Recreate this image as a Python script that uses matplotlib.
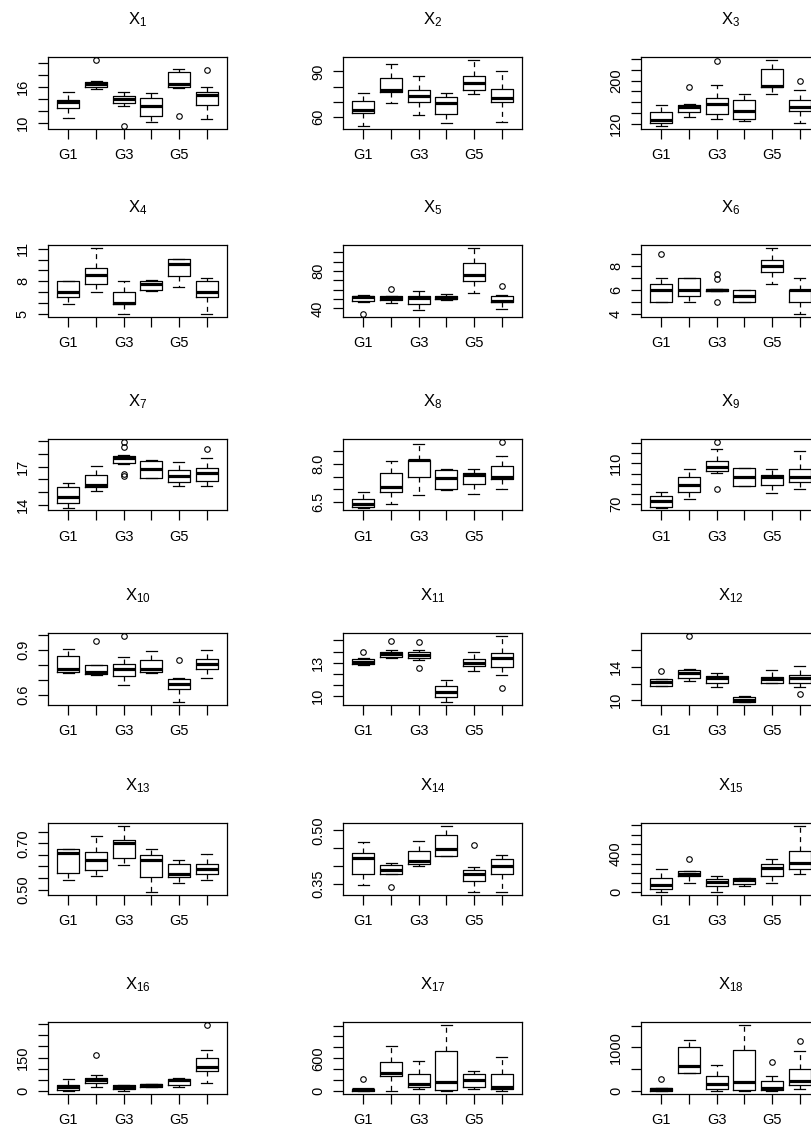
import matplotlib
matplotlib.use('Agg')
import matplotlib.pyplot as plt

plt.rcParams['font.family'] = ['Liberation Sans', 'DejaVu Sans']

group_ticks = ['G1', '', 'G3', '', 'G5', '']

# (lower whisker, Q1, median, Q3, upper whisker) for G1..G6, plus outliers
x1 = [(10.8, 12.5, 13.5, 13.9, 15.2), (15.6, 16.0, 16.5, 16.9, 17.1), (12.9, 13.3, 14.0, 14.5, 15.1),
      (10.1, 11.1, 12.8, 14.2, 15.0), (15.9, 16.0, 16.6, 18.5, 19.1), (10.6, 13.0, 14.6, 15.1, 16.0)]
x1_out = [[], [20.6], [9.5], [], [11.1], [18.8]]
x2 = [(54.3, 62.6, 64.9, 70.4, 76.1), (69.3, 76.3, 77.9, 85.8, 95.1), (61.3, 70.1, 73.7, 77.9, 86.7),
      (56.2, 62.0, 69.3, 73.0, 75.7), (75.2, 77.9, 82.3, 86.7, 97.7), (57.1, 69.7, 72.6, 78.5, 90.2)]
x2_out = [[], [], [], [], [], []]
x3 = [(117, 121.8, 127.4, 141.5, 155), (133.5, 142.8, 152, 155.7, 157), (129.2, 138.5, 157, 167.4, 191.4),
      (126, 129.2, 144.6, 164.3, 175.4), (175.4, 187.7, 190.8, 221.5, 238.2), (123, 144.6, 152, 164.3, 182.8)]
x3_out = [[], [187.7], [235], [], [], [200]]
x4 = [(5.93, 6.55, 7.01, 8.07, 8.07), (7.01, 7.76, 8.56, 9.21, 11.1), (5.0, 5.87, 5.99, 7.01, 8.07),
      (7.07, 7.23, 7.76, 8.07, 8.1), (7.5, 8.53, 9.6, 10.1, 10.1), (5.0, 6.52, 7.01, 8.07, 8.31)]
x4_out = [[], [], [], [], [], []]
x5 = [(46.8, 48.3, 51.9, 53.7, 54.4), (45.8, 48.6, 51.2, 53.0, 53.7), (38.6, 44.7, 51.2, 53.7, 58.4),
      (49.4, 50.1, 51.5, 53.7, 55.1), (56.6, 69.2, 76.4, 89.0, 105.2), (39.3, 46.5, 47.6, 53.0, 54.4)]
x5_out = [[34.2], [61.3], [], [], [], [63.8]]
x6 = [(5.0, 5.0, 6.0, 6.5, 7.0), (5.0, 5.47, 6.0, 7.0, 7.0), (5.95, 5.95, 6.0, 6.05, 6.05),
      (5.0, 5.0, 5.5, 6.0, 6.0), (6.5, 7.47, 8.0, 8.5, 9.5), (4.03, 5.0, 6.0, 6.0, 7.0)]
x6_out = [[8.94], [], [6.9, 7.3, 5.0], [], [], []]
x7 = [(13.78, 14.14, 14.62, 15.43, 15.7), (15.1, 15.43, 15.57, 16.35, 17.05), (17.24, 17.3, 17.65, 17.84, 17.92),
      (16.08, 16.08, 16.78, 17.46, 17.54), (15.49, 15.81, 16.3, 16.7, 17.38), (15.49, 15.89, 16.49, 16.89, 17.7)]
x7_out = [[], [], [18.95, 18.51, 16.4, 16.3], [], [], [18.4]]
x8 = [(6.27, 6.30, 6.43, 6.61, 6.91), (6.41, 6.89, 7.08, 7.64, 8.13), (6.77, 7.5, 8.15, 8.17, 8.78),
      (6.98, 7.01, 7.44, 7.77, 7.8), (6.83, 7.2, 7.57, 7.64, 7.8), (7.01, 7.4, 7.5, 7.93, 8.33)]
x8_out = [[], [], [], [], [], [8.88]]
x9 = [(66.4, 67.4, 73.3, 77.9, 82.1), (74.6, 82.1, 88.7, 96.9, 104.1), (100.2, 102.8, 106.1, 112.6, 123.8),
      (87.7, 87.7, 96.9, 105.1, 105.1), (81.1, 88.7, 96.2, 98.5, 104.1), (84.4, 92.0, 96.2, 104.1, 122.5)]
x9_out = [[], [], [131.3, 84.8], [], [], []]
x10 = [(0.744, 0.756, 0.773, 0.86, 0.907), (0.733, 0.738, 0.756, 0.796, 0.8), (0.667, 0.729, 0.773, 0.804, 0.851),
       (0.744, 0.756, 0.773, 0.829, 0.889), (0.556, 0.644, 0.673, 0.704, 0.711), (0.711, 0.773, 0.807, 0.838, 0.896)]
x10_out = [[], [0.956], [0.993], [], [0.833], []]
x11 = [(12.79, 12.85, 13.09, 13.3, 13.39), (13.39, 13.48, 13.75, 13.99, 14.14), (13.24, 13.39, 13.69, 13.99, 14.14),
       (9.43, 9.88, 10.33, 10.84, 11.38), (12.19, 12.7, 13.0, 13.3, 13.93), (11.89, 12.55, 13.39, 13.84, 15.44)]
x11_out = [[13.99], [14.98], [14.83, 12.49], [], [], [10.69]]
x12 = [(11.68, 11.76, 12.16, 12.52, 12.6), (12.36, 12.72, 13.24, 13.64, 13.72), (11.64, 12.12, 12.64, 12.92, 13.32),
       (9.8, 9.84, 10.04, 10.36, 10.52), (12.04, 12.12, 12.52, 12.76, 13.64), (11.64, 12.04, 12.64, 13.0, 14.12)]
x12_out = [[13.56], [17.76], [], [], [], [10.72]]
x13 = [(0.540, 0.572, 0.658, 0.673, 0.676), (0.560, 0.586, 0.629, 0.661, 0.733), (0.608, 0.637, 0.701, 0.716, 0.776),
       (0.490, 0.553, 0.629, 0.651, 0.676), (0.529, 0.553, 0.569, 0.612, 0.627), (0.540, 0.568, 0.589, 0.612, 0.655)]
x13_out = [[], [], [], [], [], []]
x14 = [(0.347, 0.377, 0.422, 0.436, 0.466), (0.378, 0.378, 0.389, 0.403, 0.408), (0.401, 0.406, 0.413, 0.441, 0.471),
       (0.429, 0.429, 0.446, 0.488, 0.513), (0.327, 0.357, 0.378, 0.389, 0.397), (0.327, 0.377, 0.399, 0.42, 0.43)]
x14_out = [[], [0.34], [], [], [0.46], []]
x15 = [(3.5, 35, 73, 150, 243), (97, 167, 195, 219, 219), (7, 63, 104, 139, 167),
       (63, 90, 132, 150, 150), (97, 174, 254, 299, 348), (195, 243, 306, 435, 696)]
x15_out = [[], [348], [], [], [], []]
x16 = [(0, 3, 18, 28.5, 55.5), (18, 37.5, 48, 58.5, 73.5), (0, 10.5, 18, 28.5, 28.5),
       (19.5, 19.5, 27, 33, 33), (18, 28.5, 48, 55.5, 58.5), (37.5, 88.5, 108, 148.5, 183)]
x16_out = [[], [160.5], [], [], [], [298.5]]
x17 = [(0, 0, 25, 43, 43), (0, 272, 334, 526, 816), (25, 74, 117, 315, 557),
       (0, 12, 155, 724, 1218), (31, 62, 198, 303, 365), (0, 43, 74, 315, 631)]
x17_out = [[210], [], [], [], [], []]
x18 = [(8, 8, 39, 70, 70), (403, 419, 581, 1008, 1178), (0, 54, 147, 349, 597),
       (0, 31, 209, 946, 1527), (0, 16, 70, 225, 349), (39, 132, 225, 504, 922)]
x18_out = [[264], [], [], [], [674], [1140]]

# y axis ticks and the labels R kept
y_ticks = [
    ([10, 12, 14, 16, 18, 20], ['10', '', '', '16', '', '']),
    ([60, 70, 80, 90], ['60', '', '', '90']),
    ([120, 140, 160, 180, 200, 220, 240], ['120', '', '', '', '200', '', '']),
    ([5, 6, 7, 8, 9, 10, 11], ['5', '', '', '8', '', '', '11']),
    ([40, 50, 60, 70, 80, 90, 100], ['40', '', '', '', '80', '', '']),
    ([4, 5, 6, 7, 8, 9], ['4', '', '6', '', '8', '']),
    ([14, 15, 16, 17, 18, 19], ['14', '', '', '17', '', '']),
    ([6.5, 7.0, 7.5, 8.0, 8.5], ['6.5', '', '', '8.0', '']),
    ([70, 80, 90, 100, 110, 120, 130], ['70', '', '', '', '110', '', '']),
    ([0.6, 0.7, 0.8, 0.9, 1.0], ['0.6', '', '', '0.9', '']),
    ([10, 11, 12, 13, 14, 15], ['10', '', '', '13', '', '']),
    ([10, 12, 14, 16], ['10', '', '14', '']),
    ([0.50, 0.55, 0.60, 0.65, 0.70, 0.75], ['0.50', '', '', '', '0.70', '']),
    ([0.35, 0.40, 0.45, 0.50], ['0.35', '', '', '0.50']),
    ([0, 100, 200, 300, 400, 500, 600, 700], ['0', '', '', '', '400', '', '', '']),
    ([0, 50, 100, 150, 200, 250, 300], ['0', '', '', '150', '', '', '']),
    ([0, 200, 400, 600, 800, 1000, 1200], ['0', '', '', '600', '', '', '']),
    ([0, 500, 1000, 1500], ['0', '', '1000', '']),
]

panels = [x1, x2, x3, x4, x5, x6, x7, x8, x9, x10, x11, x12, x13, x14, x15, x16, x17, x18]
outliers = [x1_out, x2_out, x3_out, x4_out, x5_out, x6_out, x7_out, x8_out, x9_out,
            x10_out, x11_out, x12_out, x13_out, x14_out, x15_out, x16_out, x17_out, x18_out]

W, H = 811, 1133
fig = plt.figure(figsize=(W / 100, H / 100), dpi=100)

col_left = [48, 343, 641]
row_top = [57, 245, 439, 633, 823, 1022]
pw, ph = 179, 71.5

for i, (boxes, outs) in enumerate(zip(panels, outliers)):
    r, c = divmod(i, 3)
    ax = fig.add_axes([col_left[c] / W, 1 - (row_top[r] + ph) / H, pw / W, ph / H])
    stats = []
    for b, o in zip(boxes, outs):
        stats.append(dict(whislo=b[0], q1=b[1], med=b[2], q3=b[3], whishi=b[4], fliers=o))
    ax.bxp(stats, positions=range(1, 7), widths=0.8, showfliers=True,
           boxprops=dict(color='black', lw=0.9),
           medianprops=dict(color='black', lw=2.3, solid_capstyle='butt'),
           whiskerprops=dict(color='black', lw=0.9, linestyle=(0, (4, 3.5))),
           capprops=dict(color='black', lw=0.9),
           flierprops=dict(marker='o', markerfacecolor='none', markeredgecolor='black',
                           markersize=4, markeredgewidth=0.8))

    # R style ranges: 4% padding around data
    vals = [v for b in boxes for v in b] + [v for o in outs for v in o]
    lo, hi = min(vals), max(vals)
    pad = 0.04 * (hi - lo)
    ax.set_ylim(lo - pad, hi + pad)
    ax.set_xlim(0.26, 6.74)

    ax.set_xticks(range(1, 7))
    ax.set_xticklabels(group_ticks, fontsize=10.5)
    ticks, labels = y_ticks[i]
    ax.set_yticks(ticks)
    ax.set_yticklabels(labels, fontsize=10.5, rotation=90, va='center')
    ax.tick_params(direction='out', length=7, width=0.9, color='black')
    ax.tick_params(axis='x', pad=7)
    ax.tick_params(axis='y', pad=6)
    for s in ax.spines.values():
        s.set_linewidth(0.9)
    ax.annotate(r'$\mathregular{X_{%d}}$' % (i + 1), xy=(0.5, 1), xycoords='axes fraction',
                xytext=(0, 23.5), textcoords='offset points', ha='center', va='baseline',
                fontsize=12)

fig.savefig('out.png', dpi=100)
